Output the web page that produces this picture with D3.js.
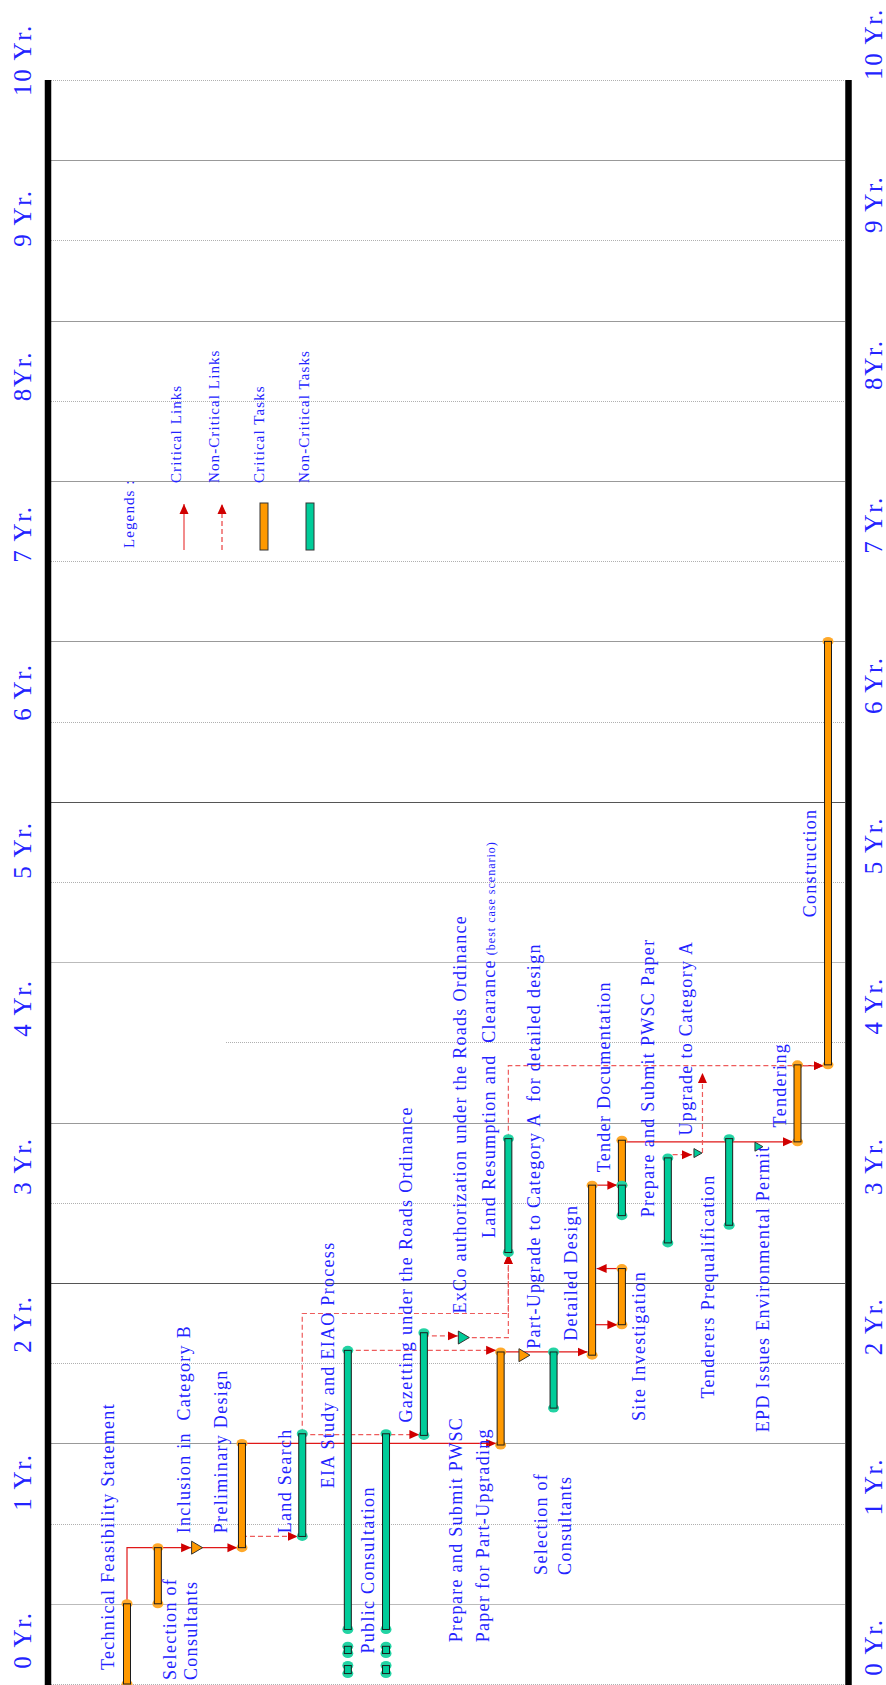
<!DOCTYPE html>
<html>
<head>
<meta charset="utf-8">
<script src="https://cdn.jsdelivr.net/npm/d3@7"></script>
<style>
  body { margin: 0; background: #fff; }
  svg { display: block; }
  text { font-family: "Liberation Serif", "Times New Roman", serif; white-space: pre; fill: #2323ff; }
</style>
</head>
<body>
<script>
const width = 886;
const height = 1685;

// year tick labels (0 .. 10)
const yearLabels = ['0 Yr.', '1 Yr.', '2 Yr.', '3 Yr.', '4 Yr.', '5 Yr.', '6 Yr.', '7 Yr.', '8Yr.', '9 Yr.', '10 Yr.'];

// schedule rows (lanes) of the gantt, in row units
const laneKeys = ['tfs', 'soc1', 'incl', 'pd', 'ls', 'eia', 'pc', 'gaz', 'exco', 'pwsc', 'lr', 'pu', 'soc2', 'dd', 'si', 'pspp', 'upg', 'tp', 'epd', 'tend', 'cons'];
const laneRows = [0, 0.88, 2.0, 3.28, 5.0, 6.3, 7.39, 8.47, 9.61, 10.66, 10.88, 11.34, 12.17, 13.27, 14.12, 15.43, 16.29, 17.18, 18.03, 19.13, 20];

// tasks (years)
const taskLane  = ['tfs', 'soc1', 'pd', 'ls', 'eia', 'eia', 'eia', 'pc', 'pc', 'pc', 'gaz', 'lr', 'pwsc', 'soc2', 'dd', 'si', 'si', 'si', 'pspp', 'tp', 'tend', 'cons'];
const taskStart = [0, 0.5, 0.85, 0.92, 0.34, 0.19, 0.065, 0.34, 0.19, 0.065, 1.55, 2.69, 1.49, 1.72, 2.05, 2.24, 3.11, 2.92, 2.75, 2.86, 3.38, 3.86];
const taskEnd   = [0.5, 0.85, 1.5, 1.56, 2.08, 0.235, 0.115, 1.56, 0.235, 0.115, 2.19, 3.40, 2.07, 2.07, 3.11, 2.59, 3.39, 3.11, 3.28, 3.40, 3.86, 6.5];
const taskCrit  = [1, 1, 1, 0, 0, 0, 0, 0, 0, 0, 0, 0, 1, 0, 1, 1, 1, 0, 0, 0, 1, 1];

// milestones
const mileLane = ['incl', 'exco', 'pu', 'upg', 'epd'];
const mileTime = [0.85, 2.16, 2.05, 3.31, 3.35];
const mileCrit = [1, 0, 1, 0, 0];

// links: from lane at t0, run to level "via", across to lane "to", end at t1
const linkFrom = ['tfs', 'incl', 'pd', 'pd', 'ls', 'ls', 'eia', 'gaz', 'exco', 'pwsc', 'dd', 'si', 'dd', 'si', 'tend', 'lr', 'pspp', 'upg'];
const linkT0   = [0.5, 0.85, 1.5, 0.92, 1.555, 1.56, 2.08, 2.17, 2.16, 2.07, 2.24, 2.59, 3.11, 3.39, 3.86, 3.40, 3.28, 3.31];
const linkVia  = [0.85, 0.85, 1.5, 0.92, 1.555, 2.31, 2.08, 2.17, 2.16, 2.07, 2.24, 2.59, 3.11, 3.38, 3.855, 3.855, 3.30, 3.81];
const linkTo   = ['incl', 'pd', 'pwsc', 'ls', 'gaz', 'lr', 'pwsc', 'exco', 'lr', 'dd', 'si', 'dd', 'si', 'tend', 'cons', 'cons', 'upg', 'upg'];
const linkT1   = [0.85, 0.85, 1.5, 0.92, 1.555, 2.69, 2.08, 2.17, 2.69, 2.07, 2.24, 2.59, 3.11, 3.38, 3.855, 3.855, 3.30, 3.81];
const linkCrit = [1, 1, 1, 0, 0, 0, 0, 0, 0, 1, 1, 1, 1, 1, 1, 0, 0, 0];

// task / milestone labels
const labelText = ['Technical Feasibility Statement', 'Selection of', 'Consultants', 'Inclusion in  Category B',
  'Preliminary Design', 'Land Search', 'EIA Study and EIAO Process', 'Public Consultation',
  'Gazetting under the Roads Ordinance', 'ExCo authorization under the Roads Ordinance',
  'Land Resumption and  Clearance', 'Prepare and Submit PWSC', 'Paper for Part-Upgrading',
  'Part-Upgrade to Category A  for detailed design', 'Selection of', 'Consultants', 'Detailed Design',
  'Site Investigation', 'Tender Documentation', 'Prepare and Submit PWSC Paper', 'Upgrade to Category A',
  'Tenderers Prequalification', 'EPD Issues Environmental Permit', 'Tendering', 'Construction'];
const labelNote = ' (best case scenario)';

const legendText = ['Legends :', 'Critical Links', 'Non-Critical Links', 'Critical Tasks', 'Non-Critical Tasks'];

// ---------- layout ----------
const lanePos = new Map(laneKeys.map((k, i) => [k, laneRows[i]]));
const isMile = new Set(mileLane);

// where each label sits: [lane, offset from lane in px, time where text starts]
const labelLayout = [
  ['tfs', -13, 0.087], ['soc1', 18, 0.025], ['soc1', 39, 0.025], ['incl', -7, 0.94],
  ['pd', -15, 0.94], ['ls', -11, 0.94], ['eia', -14, 1.22], ['pc', -12, 0.19],
  ['gaz', -12, 1.63], ['exco', 2, 2.31], ['lr', -13, 2.78], ['pwsc', -39, 0.26],
  ['pwsc', -12, 0.26], ['pu', 16, 2.09], ['soc2', -7, 0.68], ['soc2', 17, 0.68],
  ['dd', -15, 2.14], ['si', 23, 1.64], ['si', -12, 3.19], ['pspp', -14, 2.91],
  ['upg', -6, 3.42], ['tp', -15, 1.78], ['epd', 10, 1.57], ['tend', -12, 3.47], ['cons', -12, 4.78]
];

const orange = '#ff9900', orangeCap = '#ffa92a';
const green = '#00cc99', greenCap = '#22d3a3';

const svg = d3.select('body').append('svg').attr('width', width).attr('height', height);

const y = d3.scaleLinear().domain([0, 10]).range([1684, 80]);
const x = d3.scaleLinear().domain([0, 20]).range([127, 828]);
const yLeftLab = d3.scaleLinear().domain([0, 10]).range([1640, 60]);
const yRightLab = d3.scaleLinear().domain([0, 10]).range([1647, 44]);

// arrow head
svg.append('defs').append('marker')
  .attr('id', 'arrow')
  .attr('viewBox', '0 0 10 10')
  .attr('refX', 10).attr('refY', 5)
  .attr('markerWidth', 10).attr('markerHeight', 10)
  .attr('markerUnits', 'userSpaceOnUse')
  .attr('orient', 'auto')
  .append('path').attr('d', 'M0,0.5 L10,5 L0,9.5 Z').attr('fill', '#d00000');

// grid
const gridT = d3.range(0, 10.01, 0.5);
const darkLines = new Set([2.5, 5.5]);
const lightLines = new Set([0.5, 4.5]);
svg.append('g')
  .selectAll('line')
  .data(gridT)
  .join('line')
    .attr('x1', (d) => d === 4 ? 226 : 51)
    .attr('x2', 845)
    .attr('y1', (d) => Math.round(y(d)) + 0.5)
    .attr('y2', (d) => Math.round(y(d)) + 0.5)
    .attr('stroke', (d) => Number.isInteger(d) ? '#b0b0b0' : darkLines.has(d) ? '#555' : lightLines.has(d) ? '#bbb' : '#999')
    .attr('stroke-dasharray', (d) => Number.isInteger(d) ? '1,1' : null)
    .attr('stroke-width', 1);

// the two thick axes
svg.append('g')
  .selectAll('line')
  .data([48, 848.5])
  .join('line')
    .attr('x1', (d) => d).attr('x2', (d) => d)
    .attr('y1', y(10)).attr('y2', height)
    .attr('stroke', '#000').attr('stroke-width', 6.5);

// year labels, both sides
const yearG = svg.append('g').style('font-size', '25px').style('letter-spacing', '1.7px');
yearG.selectAll('text.l')
  .data(yearLabels)
  .join('text')
    .attr('class', 'l')
    .attr('text-anchor', 'middle')
    .attr('transform', (d, i) => `translate(31,${yLeftLab(i)}) rotate(-90)`)
    .text((d) => d);
yearG.selectAll('text.r')
  .data(yearLabels)
  .join('text')
    .attr('class', 'r')
    .attr('text-anchor', 'middle')
    .attr('transform', (d, i) => `translate(882,${yRightLab(i)}) rotate(-90)`)
    .text((d) => d);

// links
const linkPath = (i) => {
  const from = linkFrom[i], to = linkTo[i];
  let xf = x(lanePos.get(from));
  const xt = x(lanePos.get(to));
  const y0 = y(linkT0[i]), yv = y(linkVia[i]), y1 = y(linkT1[i]);
  // a link leaving a milestone vertically starts at its tip
  if (isMile.has(from) && Math.abs(yv - y0) > 1) xf += 4.5;
  const pts = [[xf, y0], [xf, yv]];
  if (Math.abs(y1 - yv) < 0.5) {
    const dir = Math.sign(xt - xf) || 1;
    const gap = to === from ? 0 : isMile.has(to) ? 6 : 4.5;
    pts.push([to === from ? xf : xt - dir * gap, yv]);
  } else {
    pts.push([xt, yv]);
    pts.push([xt, y1 - Math.sign(y1 - yv) * 1.5]);
  }
  const clean = pts.filter((p, k) => k === 0 || Math.hypot(p[0] - pts[k - 1][0], p[1] - pts[k - 1][1]) > 0.1);
  return d3.line()(clean);
};

svg.append('g')
  .selectAll('path')
  .data(d3.range(linkFrom.length))
  .join('path')
    .attr('d', linkPath)
    .attr('fill', 'none')
    .attr('stroke', (i) => linkCrit[i] ? '#e01818' : '#ee5c5c')
    .attr('stroke-width', 1.2)
    .attr('stroke-dasharray', (i) => linkCrit[i] ? null : '5,3')
    .attr('marker-end', 'url(#arrow)');

// task bars
const bars = svg.append('g')
  .selectAll('g')
  .data(d3.range(taskLane.length))
  .join('g');

bars.selectAll('ellipse')
  .data((i) => [[i, taskStart[i]], [i, taskEnd[i]]])
  .join('ellipse')
    .attr('cx', (d) => x(lanePos.get(taskLane[d[0]])))
    .attr('cy', (d) => y(d[1]))
    .attr('rx', 5.5).attr('ry', 4.5)
    .attr('fill', (d) => taskCrit[d[0]] ? orangeCap : greenCap);

bars.append('rect')
  .attr('x', (i) => x(lanePos.get(taskLane[i])) - 3.5)
  .attr('y', (i) => y(taskEnd[i]))
  .attr('width', 7)
  .attr('height', (i) => y(taskStart[i]) - y(taskEnd[i]))
  .attr('fill', (i) => taskCrit[i] ? orange : green)
  .attr('stroke', '#1c1c1c')
  .attr('stroke-width', 1);

// milestones
const smallMiles = new Set(['upg', 'epd']);
svg.append('g')
  .selectAll('path')
  .data(d3.range(mileLane.length))
  .join('path')
    .attr('d', (i) => {
      const cx = x(lanePos.get(mileLane[i])), cy = y(mileTime[i]);
      const w = smallMiles.has(mileLane[i]) ? 4 : 5.5;
      const h = smallMiles.has(mileLane[i]) ? 4.5 : 6.5;
      return `M${cx - w},${cy - h} L${cx + w},${cy} L${cx - w},${cy + h} Z`;
    })
    .attr('fill', (i) => mileCrit[i] ? orange : green)
    .attr('stroke', '#333')
    .attr('stroke-width', 1);

// task labels
const labels = svg.append('g')
  .style('font-size', '18px')
  .style('letter-spacing', '1.3px')
  .selectAll('text')
  .data(d3.range(labelText.length))
  .join('text')
    .attr('transform', (i) => {
      const [lane, dx, t] = labelLayout[i];
      return `translate(${x(lanePos.get(lane)) + dx},${y(t)}) rotate(-90)`;
    })
    .text((i) => labelText[i]);

labels.filter((i) => labelText[i].startsWith('Land Resumption'))
  .append('tspan')
    .style('font-size', '12px')
    .style('letter-spacing', '1px')
    .text(labelNote);

// legend
const legend = svg.append('g');
const legX = [134, 181, 219, 264, 309];
const legY = [548, 483, 483, 483, 483];
legend.selectAll('text')
  .data(legendText)
  .join('text')
    .style('font-size', '15px')
    .style('letter-spacing', '1.1px')
    .attr('transform', (d, i) => `translate(${legX[i]},${legY[i]}) rotate(-90)`)
    .text((d) => d);

legend.selectAll('line')
  .data([0, 1])
  .join('line')
    .attr('x1', (d) => d ? 222 : 184).attr('x2', (d) => d ? 222 : 184)
    .attr('y1', 550).attr('y2', 504)
    .attr('stroke', '#e66')
    .attr('stroke-width', 1.5)
    .attr('stroke-dasharray', (d) => d ? '5,3' : null)
    .attr('marker-end', 'url(#arrow)');

legend.selectAll('rect')
  .data([1, 0])
  .join('rect')
    .attr('x', (d) => d ? 260 : 306)
    .attr('y', 503)
    .attr('width', 8).attr('height', 47)
    .attr('fill', (d) => d ? orange : green)
    .attr('stroke', '#333').attr('stroke-width', 1);
</script>
</body>
</html>
